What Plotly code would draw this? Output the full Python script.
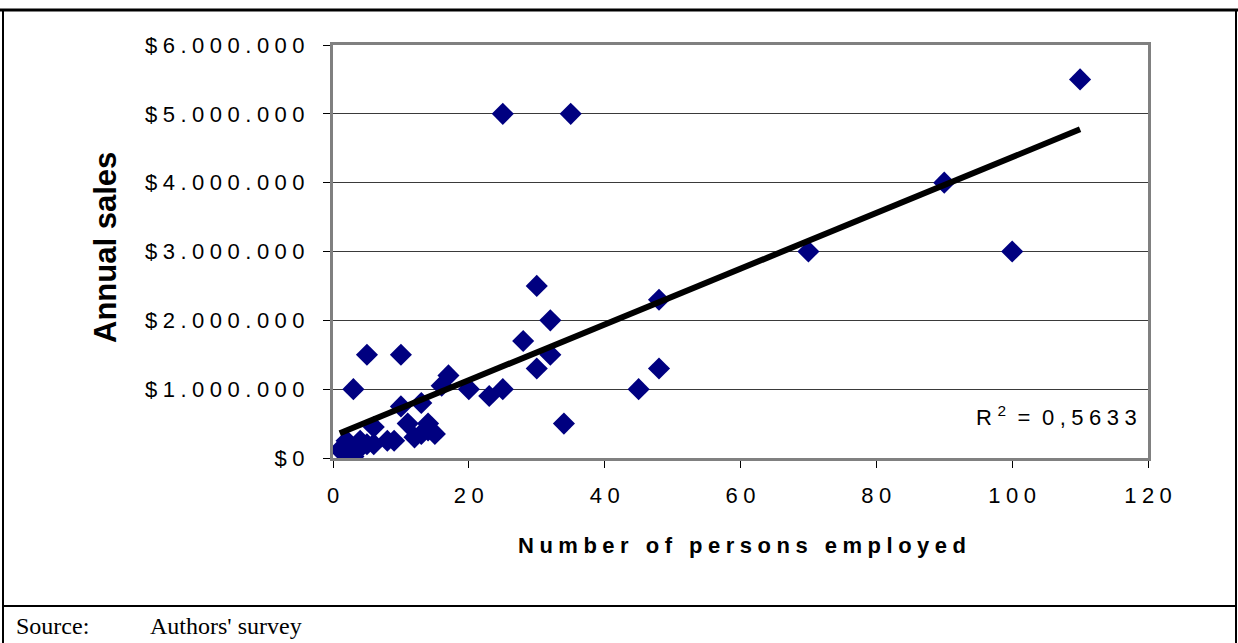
import plotly.graph_objects as go

# ---- data ----
employees = [25, 35, 110, 90, 70, 100, 30, 48, 32, 28, 32, 5, 10, 30, 48, 17, 16, 3, 20, 25,
             45, 23, 34, 10, 13, 6, 11, 14, 15, 12, 13, 9, 8, 5, 4, 2, 2, 3, 1, 3, 4, 6, 14]
sales = [5000000, 5000000, 5500000, 4000000, 3000000, 3000000, 2500000, 2300000, 2000000,
         1700000, 1500000, 1500000, 1500000, 1300000, 1300000, 1200000, 1050000, 1000000,
         1000000, 1000000, 1000000, 900000, 500000, 750000, 800000, 450000, 500000, 500000,
         350000, 300000, 350000, 250000, 250000, 200000, 250000, 250000, 100000, 20000,
         120000, 120000, 150000, 200000, 400000]
trend_intercept = 320000
trend_slope = 40500
r_squared_text = "0,5633"

x_tick_values = [0, 20, 40, 60, 80, 100, 120]
x_tick_labels = ["0", "20", "40", "60", "80", "100", "120"]
y_tick_values = [0, 1000000, 2000000, 3000000, 4000000, 5000000, 6000000]
y_tick_labels = ["$0", "$1.000.000", "$2.000.000", "$3.000.000", "$4.000.000",
                 "$5.000.000", "$6.000.000"]

x_title = "Number of persons employed"
y_title = "Annual sales"
source_label = "Source:"
source_text = "Authors' survey"

# ---- helpers ----
WIDE = "\u2005"


def spaced(s, sep=WIDE):
    return sep.join(list(s))


W, H = 1238, 643
L, R, T, B = 333, 1148, 45, 458


def px(x):
    return (x - L) / (R - L)


def py(y):
    return (B - y) / (B - T)


FONT = "Liberation Sans, Arial, sans-serif"
SERIF = "Liberation Serif, Times New Roman, serif"

fig = go.Figure()

fig.add_trace(go.Scatter(
    x=employees, y=sales, mode="markers",
    marker=dict(symbol="diamond", size=17, color="#000080", line=dict(width=0)),
    showlegend=False, hoverinfo="x+y"))

tx = [min(employees), max(employees)]
ty = [trend_intercept + trend_slope * v for v in tx]
fig.add_trace(go.Scatter(
    x=tx, y=ty, mode="lines", line=dict(color="black", width=6),
    showlegend=False, hoverinfo="skip"))

fig.update_layout(
    width=W, height=H, autosize=False,
    margin=dict(l=L, r=W - R, t=T, b=H - B),
    paper_bgcolor="white", plot_bgcolor="white",
    font=dict(family=FONT, size=22, color="black"),
    xaxis=dict(range=[0, 120], tickvals=x_tick_values,
               ticktext=[spaced(t) for t in x_tick_labels],
               ticks="outside", ticklen=7, tickcolor="black", tickwidth=1,
               showgrid=False, zeroline=False, showline=True,
               linecolor="#808080", linewidth=3, mirror=True,
               ticklabelstandoff=9,
               tickfont=dict(family=FONT, size=22)),
    yaxis=dict(range=[0, 6000000], tickvals=y_tick_values,
               ticktext=[spaced(t) for t in y_tick_labels],
               ticks="outside", ticklen=7, tickcolor="black", tickwidth=1,
               showgrid=True, gridcolor="#3a3a3a", gridwidth=1,
               zeroline=False, showline=True,
               linecolor="#808080", linewidth=3, mirror=True,
               ticklabelstandoff=14,
               tickfont=dict(family=FONT, size=22)),
)

annotations = [
    dict(text=spaced(x_title), x=px(742), y=py(545), xref="paper", yref="paper",
         showarrow=False, xanchor="center", yanchor="middle",
         font=dict(family=FONT, size=22, color="black", weight="bold")),
    dict(text=y_title, x=px(105), y=py(248), xref="paper", yref="paper",
         showarrow=False, textangle=-90, xanchor="center", yanchor="middle",
         font=dict(family=FONT, size=31, color="black", weight="bold")),
    dict(text="R" + WIDE + "<sup>2</sup>" + WIDE + " = " + WIDE + spaced(r_squared_text),
         x=px(1139), y=py(416), xref="paper", yref="paper",
         showarrow=False, xanchor="right", yanchor="middle",
         font=dict(family=FONT, size=22, color="black")),
    dict(text=source_label, x=px(14), y=py(626), xref="paper", yref="paper",
         showarrow=False, xanchor="left", yanchor="middle",
         font=dict(family=SERIF, size=24, color="black")),
    dict(text=source_text, x=px(148), y=py(626), xref="paper", yref="paper",
         showarrow=False, xanchor="left", yanchor="middle",
         font=dict(family=SERIF, size=24, color="black")),
]
fig.update_layout(annotations=annotations)

shapes = [
    dict(type="line", xref="paper", yref="paper", x0=px(0), x1=px(W), y0=py(10), y1=py(10),
         line=dict(color="black", width=3)),
    dict(type="line", xref="paper", yref="paper", x0=px(3), x1=px(3), y0=py(10), y1=py(H),
         line=dict(color="black", width=2)),
    dict(type="line", xref="paper", yref="paper", x0=px(1236), x1=px(1236), y0=py(10), y1=py(H),
         line=dict(color="black", width=2)),
    dict(type="line", xref="paper", yref="paper", x0=px(3), x1=px(1236), y0=py(606), y1=py(606),
         line=dict(color="black", width=2)),
]
fig.update_layout(shapes=shapes)

fig.write_html("out.html", config={"displayModeBar": False},
               post_script="document.body.style.margin='0';document.body.style.overflow='hidden';")
